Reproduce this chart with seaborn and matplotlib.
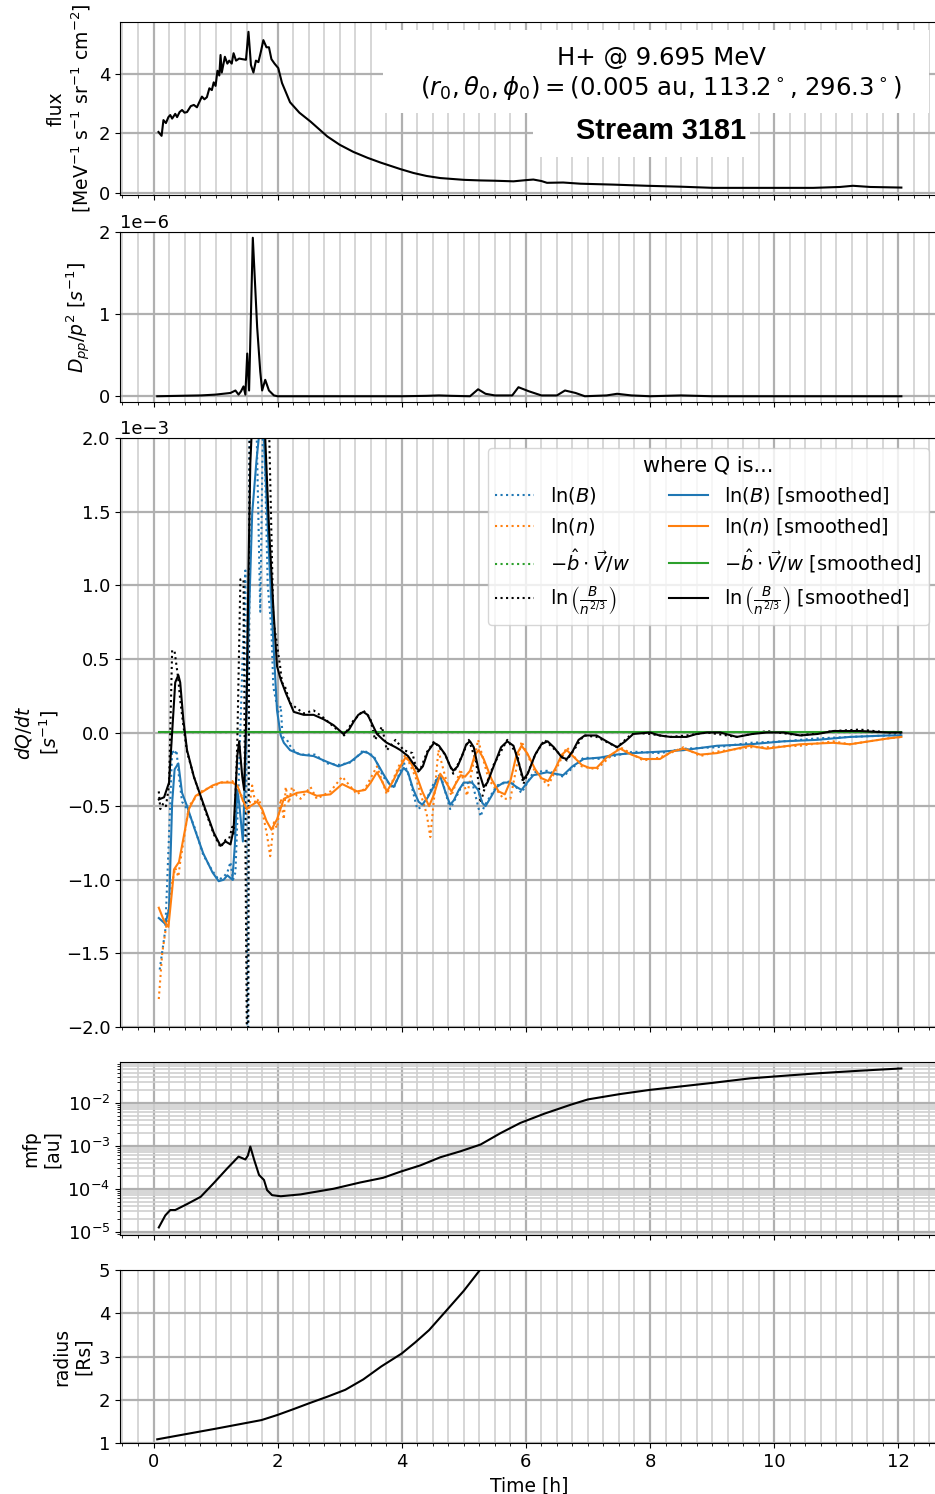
import numpy as np
import matplotlib
matplotlib.use("Agg")
import matplotlib.pyplot as plt
import seaborn as sns
from matplotlib.ticker import MultipleLocator
from matplotlib.patches import Rectangle

# ---- flux ----
flux_t = [0.08, 0.13, 0.16, 0.2, 0.24, 0.27, 0.3, 0.35, 0.38, 0.42, 0.46, 0.5, 0.54, 0.6, 0.65, 0.7,
          0.73, 0.78, 0.82, 0.86, 0.9, 0.94, 0.97, 1.0, 1.03, 1.06, 1.08, 1.1, 1.15, 1.19, 1.22, 1.26,
          1.29, 1.33, 1.38, 1.43, 1.49, 1.53, 1.57, 1.61, 1.65, 1.69, 1.73, 1.77, 1.82, 1.86, 1.9,
          1.95, 2.01, 2.07, 2.2, 2.35, 2.53, 2.8, 3.0, 3.22, 3.45, 3.66, 3.98, 4.19, 4.4, 4.62, 5.0,
          5.27, 5.5, 5.8, 6.0, 6.12, 6.25, 6.34, 6.6, 6.88, 7.4, 7.95, 8.49, 9.02, 9.56, 10.1, 10.63,
          11.06, 11.27, 11.55, 12.05]
flux = [2.05, 1.92, 2.45, 2.35, 2.55, 2.62, 2.5, 2.66, 2.55, 2.72, 2.79, 2.7, 2.72, 2.92, 2.96, 2.88,
        3.02, 3.24, 3.15, 3.22, 3.52, 3.46, 3.72, 3.6, 4.11, 3.95, 4.64, 4.05, 4.58, 4.35, 4.45, 4.35,
        4.7, 4.45, 4.52, 4.5, 4.48, 5.42, 4.3, 4.05, 4.45, 4.4, 4.75, 5.14, 4.9, 4.9, 4.5,
        4.35, 4.2, 3.7, 3.05, 2.7, 2.4, 1.9, 1.62, 1.38, 1.18, 1.02, 0.8, 0.67, 0.57, 0.5, 0.44,
        0.42, 0.41, 0.39, 0.43, 0.45, 0.4, 0.34, 0.35, 0.31, 0.28, 0.24, 0.21, 0.17, 0.17, 0.17, 0.17,
        0.2, 0.24, 0.2, 0.18]

# ---- Dpp/p^2 (x1e-6) ----
dpp_t = [0.06, 0.76, 1.0, 1.24, 1.32, 1.37, 1.41, 1.45, 1.48, 1.51, 1.54, 1.6, 1.67, 1.72, 1.75,
         1.8, 1.86, 1.94, 2.0, 3.0, 4.0, 4.4, 4.6, 4.8, 5.1, 5.23, 5.35, 5.5, 5.78, 5.88, 6.05,
         6.25, 6.5, 6.63, 6.8, 6.95, 7.3, 7.47, 7.7, 8.0, 8.5, 9.0, 10.0, 12.05]
dpp = [0.0, 0.01, 0.02, 0.04, 0.07, 0.02, 0.06, 0.12, 0.02, 0.52, 0.07, 1.93, 0.84, 0.3, 0.07,
       0.2, 0.07, 0.01, 0.0, 0.0, 0.0, 0.005, 0.01, 0.005, 0.0, 0.085, 0.03, 0.01, 0.01, 0.11, 0.06,
       0.01, 0.01, 0.07, 0.04, 0.0, 0.01, 0.03, 0.01, 0.0, 0.01, 0.0, 0.0, 0.0]

# ---- dQ/dt (x1e-3), raw ----
lnB_raw_t = [0.1, 0.19, 0.27, 0.3, 0.34, 0.37, 0.41, 0.46, 0.54, 0.65, 0.8, 0.95, 1.05, 1.13, 1.19,
             1.24, 1.28, 1.32, 1.37, 1.43, 1.48, 1.52, 1.55, 1.64, 1.72, 1.77, 1.84, 1.9, 1.93,
             2.01, 2.05, 2.08, 2.15, 2.2, 2.3, 2.4, 2.6, 2.8, 3.0, 3.2, 3.38, 3.55, 3.7, 3.87,
             4.03, 4.12, 4.25, 4.35, 4.51, 4.62, 4.78, 4.97, 5.13, 5.27, 5.33, 5.53, 5.75, 5.93,
             6.12, 6.34, 6.6, 6.93, 7.2, 7.73, 8.16, 8.54, 9.08, 9.61, 10.15, 10.69, 11.22, 11.84, 12.05]
lnB_raw = [-1.61, -1.34, -0.48, -0.12, -0.15, -0.12, -0.3, -0.47, -0.52, -0.63, -0.83, -0.94, -1.0, -0.98, -0.95,
           -0.88, -1.0, -0.95, -0.37, 0.43, 1.1, -3.0, 2.5, 2.5, 0.82, 2.3, 1.0, 0.7, 0.31,
           0.14, 0.18, -0.03, -0.05, -0.09, -0.14, -0.15, -0.15, -0.21, -0.22, -0.2, -0.12, -0.16, -0.3, -0.38,
           -0.2, -0.3, -0.52, -0.5, -0.35, -0.28, -0.52, -0.36, -0.33, -0.57, -0.5, -0.36, -0.33, -0.41,
           -0.27, -0.26, -0.3, -0.17, -0.18, -0.13, -0.14, -0.11, -0.1, -0.07, -0.06, -0.04, -0.03, -0.02, -0.01]

lnn_raw_t = [0.085, 0.14, 0.22, 0.3, 0.35, 0.4, 0.43, 0.49, 0.57, 0.68, 0.8, 0.95, 1.08, 1.27, 1.35,
             1.43, 1.48, 1.53, 1.59, 1.64, 1.7, 1.78, 1.83, 1.88, 1.94, 1.99, 2.05, 2.1, 2.13, 2.18,
             2.23, 2.31, 2.37, 2.53, 2.63, 2.85, 3.04, 3.28, 3.41, 3.6, 3.76, 3.95, 4.06, 4.22, 4.4,
             4.46, 4.52, 4.59, 4.7, 4.8, 4.95, 5.05, 5.23, 5.4, 5.64, 5.75, 5.93, 6.15, 6.36, 6.66,
             6.9, 7.14, 7.52, 7.89, 8.16, 8.54, 8.81, 9.08, 9.61, 9.88, 10.42, 10.95, 11.22, 11.84, 12.05]
lnn_raw = [-1.81, -1.5, -1.27, -1.02, -0.92, -0.98, -0.88, -0.72, -0.5, -0.44, -0.39, -0.37, -0.34, -0.33, -0.37,
           -0.44, -0.55, -0.55, -0.36, -0.48, -0.45, -0.59, -0.7, -0.84, -0.61, -0.65, -0.45, -0.59, -0.37, -0.48,
           -0.37, -0.43, -0.45, -0.37, -0.45, -0.4, -0.3, -0.42, -0.38, -0.23, -0.42, -0.23, -0.15, -0.3, -0.55,
           -0.71, -0.45, -0.12, -0.3, -0.43, -0.25, -0.43, -0.05, -0.32, -0.45, -0.45, -0.06, -0.27, -0.36, -0.1,
           -0.23, -0.25, -0.1, -0.19, -0.17, -0.1, -0.16, -0.13, -0.1, -0.1, -0.09, -0.06, -0.08, -0.04, -0.03]

bv_raw_t = [0.085, 1.0, 2.0, 4.0, 6.0, 8.0, 10.0, 12.05]
bv_raw = [0.003, 0.002, 0.003, 0.002, 0.003, 0.002, 0.003, 0.002]

ratio_raw_t = [0.085, 0.11, 0.16, 0.2, 0.25, 0.3, 0.34, 0.4, 0.43, 0.48, 0.54, 0.65, 0.8, 0.97, 1.08,
               1.16, 1.22, 1.27, 1.3, 1.35, 1.4, 1.45, 1.52, 1.55, 1.85, 1.93, 2.04, 2.07, 2.12, 2.2,
               2.29, 2.42, 2.58, 2.74, 2.9, 3.07, 3.22, 3.38, 3.49, 3.57, 3.68, 3.76, 3.9, 4.03, 4.17,
               4.25, 4.3, 4.41, 4.52, 4.7, 4.83, 4.97, 5.08, 5.2, 5.27, 5.32, 5.48, 5.7, 5.86, 5.96,
               6.15, 6.3, 6.45, 6.66, 6.93, 7.14, 7.47, 7.73, 8.0, 8.33, 8.59, 8.92, 9.4, 9.88, 10.42,
               10.95, 11.38, 11.84, 12.05]
ratio_raw = [-0.4, -0.52, -0.48, -0.5, -0.36, 0.56, 0.55, 0.36, 0.22, 0.05, -0.13, -0.3, -0.49, -0.69, -0.78,
             -0.73, -0.72, -0.64, -0.7, -0.07, 1.04, 1.04, -3.0, 2.6, 2.3, 0.77, 0.45, 0.34, 0.31, 0.2,
             0.17, 0.13, 0.15, 0.1, 0.04, -0.02, 0.08, 0.15, 0.1, -0.05, 0.04, -0.12, -0.05, -0.12, -0.14,
             -0.27, -0.25, -0.13, -0.06, -0.15, -0.28, -0.16, -0.05, -0.2, -0.48, -0.4, -0.22, -0.05, -0.15, -0.35,
             -0.15, -0.05, -0.11, -0.19, -0.02, -0.03, -0.1, 0.0, -0.01, -0.03, -0.02, 0.0, -0.03, 0.01, -0.02,
             0.01, 0.02, 0.0, 0.0]

# ---- dQ/dt (x1e-3), smoothed ----
lnB_sm_t = [0.085, 0.19, 0.25, 0.3, 0.34, 0.4, 0.46, 0.54, 0.65, 0.8, 0.95, 1.05, 1.13, 1.19, 1.27,
            1.31, 1.35, 1.38, 1.44, 1.48, 1.51, 1.59, 1.66, 1.72, 1.76, 1.78, 1.85, 1.92, 1.99, 2.05,
            2.1, 2.2, 2.37, 2.58, 2.8, 2.98, 3.17, 3.38, 3.46, 3.55, 3.62, 3.7, 3.8, 3.87, 3.95,
            4.03, 4.1, 4.18, 4.27, 4.33, 4.42, 4.51, 4.58, 4.63, 4.7, 4.78, 4.84, 4.92, 5.0, 5.13,
            5.23, 5.3, 5.35, 5.42, 5.53, 5.64, 5.75, 5.85, 5.93, 6.02, 6.12, 6.34, 6.6, 6.75, 6.93,
            7.2, 7.45, 7.73, 8.16, 8.54, 9.08, 9.61, 10.15, 10.69, 11.22, 11.84, 12.05]
lnB_sm = [-1.26, -1.3, -1.2, -0.48, -0.25, -0.21, -0.41, -0.5, -0.64, -0.82, -0.95, -1.01, -1.0, -0.97, -1.0,
          -0.77, -0.39, -0.48, -0.74, -0.2, 0.4, 1.49, 1.85, 2.1, 2.15, 2.0, 1.3, 0.7, 0.15, -0.02,
          -0.07, -0.12, -0.15, -0.16, -0.2, -0.23, -0.2, -0.13, -0.14, -0.17, -0.22, -0.28, -0.35, -0.37, -0.3,
          -0.24, -0.27, -0.38, -0.47, -0.49, -0.44, -0.37, -0.31, -0.31, -0.4, -0.49, -0.46, -0.39, -0.34, -0.34,
          -0.39, -0.48, -0.5, -0.45, -0.37, -0.34, -0.34, -0.37, -0.39, -0.34, -0.29, -0.27, -0.29, -0.23, -0.18,
          -0.17, -0.15, -0.14, -0.13, -0.12, -0.09, -0.08, -0.06, -0.05, -0.03, -0.02, -0.02]

lnn_sm_t = [0.085, 0.17, 0.24, 0.3, 0.33, 0.41, 0.49, 0.57, 0.68, 0.8, 0.95, 1.08, 1.27, 1.35, 1.43,
            1.5, 1.56, 1.67, 1.75, 1.82, 1.9, 1.99, 2.1, 2.21, 2.31, 2.47, 2.63, 2.85, 3.04, 3.28,
            3.41, 3.5, 3.6, 3.68, 3.76, 3.86, 3.95, 4.06, 4.14, 4.22, 4.33, 4.44, 4.52, 4.62, 4.7,
            4.8, 4.88, 4.95, 5.02, 5.1, 5.18, 5.24, 5.32, 5.45, 5.56, 5.66, 5.75, 5.85, 5.93, 6.02,
            6.15, 6.25, 6.36, 6.48, 6.58, 6.66, 6.78, 6.9, 7.02, 7.14, 7.3, 7.52, 7.7, 7.89, 8.16,
            8.35, 8.54, 8.81, 9.08, 9.61, 9.88, 10.42, 10.95, 11.22, 11.84, 12.05]
lnn_sm = [-1.19, -1.28, -1.32, -1.07, -0.93, -0.88, -0.7, -0.52, -0.43, -0.4, -0.36, -0.34, -0.34, -0.36, -0.45,
          -0.52, -0.5, -0.47, -0.52, -0.6, -0.66, -0.59, -0.45, -0.43, -0.41, -0.4, -0.43, -0.42, -0.35, -0.4,
          -0.39, -0.34, -0.27, -0.33, -0.4, -0.33, -0.25, -0.17, -0.2, -0.27, -0.4, -0.5, -0.42, -0.28, -0.33,
          -0.4, -0.34, -0.29, -0.3, -0.26, -0.15, -0.12, -0.18, -0.32, -0.4, -0.42, -0.33, -0.15, -0.09, -0.14,
          -0.25, -0.31, -0.33, -0.24, -0.15, -0.12, -0.17, -0.22, -0.24, -0.24, -0.17, -0.11, -0.15, -0.18, -0.18,
          -0.13, -0.11, -0.15, -0.14, -0.09, -0.11, -0.08, -0.07, -0.08, -0.04, -0.03]

bv_sm_t = [0.085, 1.0, 2.0, 4.0, 6.0, 8.0, 10.0, 12.05]
bv_sm = [0.002, 0.002, 0.002, 0.002, 0.002, 0.002, 0.002, 0.002]

ratio_sm_t = [0.085, 0.17, 0.25, 0.3, 0.35, 0.4, 0.43, 0.48, 0.54, 0.65, 0.8, 0.97, 1.08, 1.16, 1.24,
              1.29, 1.35, 1.38, 1.43, 1.46, 1.5, 1.53, 1.56, 1.62, 1.7, 1.8, 1.86, 1.93, 1.99, 2.05,
              2.13, 2.26, 2.42, 2.58, 2.74, 2.9, 3.06, 3.15, 3.22, 3.3, 3.38, 3.45, 3.52, 3.6, 3.7,
              3.76, 3.9, 3.98, 4.1, 4.2, 4.28, 4.34, 4.42, 4.52, 4.6, 4.7, 4.78, 4.83, 4.9, 4.97,
              5.04, 5.1, 5.16, 5.24, 5.32, 5.38, 5.48, 5.6, 5.7, 5.8, 5.88, 5.96, 6.03, 6.15, 6.25,
              6.35, 6.45, 6.58, 6.66, 6.75, 6.85, 6.95, 7.14, 7.3, 7.47, 7.6, 7.73, 8.0, 8.15, 8.33,
              8.59, 8.75, 8.92, 9.13, 9.4, 9.65, 9.88, 10.15, 10.42, 10.7, 10.95, 11.38, 11.84, 12.05]
ratio_sm = [-0.455, -0.44, -0.34, 0.0, 0.34, 0.39, 0.34, 0.09, -0.12, -0.3, -0.48, -0.68, -0.77, -0.74, -0.76,
            -0.66, -0.16, -0.06, -0.3, -0.39, 0.2, 1.1, 1.83, 2.4, 2.5, 2.0, 1.4, 0.85, 0.45, 0.36,
            0.27, 0.14, 0.12, 0.12, 0.09, 0.05, -0.01, 0.02, 0.07, 0.12, 0.14, 0.12, 0.06, -0.01, -0.05,
            -0.07, -0.1, -0.12, -0.16, -0.22, -0.26, -0.23, -0.13, -0.07, -0.09, -0.15, -0.23, -0.26, -0.23, -0.16,
            -0.08, -0.06, -0.1, -0.26, -0.37, -0.34, -0.23, -0.1, -0.06, -0.09, -0.2, -0.32, -0.28, -0.15, -0.08,
            -0.06, -0.1, -0.17, -0.18, -0.13, -0.05, -0.02, -0.02, -0.06, -0.1, -0.06, -0.01, 0.0, -0.02, -0.03,
            -0.03, -0.01, 0.0, 0.0, -0.03, -0.01, 0.0, 0.0, -0.02, -0.01, 0.01, 0.01, 0.0, 0.0]

# ---- mean free path [au] ----
mfp_t = [0.085, 0.19, 0.27, 0.35, 0.54, 0.76, 0.97, 1.19, 1.37, 1.48, 1.52, 1.56, 1.62, 1.7, 1.78,
         1.83, 1.91, 2.05, 2.37, 2.9, 3.33, 3.7, 3.98, 4.3, 4.62, 4.94, 5.27, 5.6, 5.91, 6.3, 6.72,
         7.0, 7.52, 8.0, 8.49, 9.0, 9.61, 10.2, 10.74, 11.4, 12.05]
mfp = [1.26e-5, 2.4e-5, 3.2e-5, 3.2e-5, 4.4e-5, 6.5e-5, 1.35e-4, 3.0e-4, 5.6e-4, 4.8e-4, 5.9e-4, 9.6e-4, 4.8e-4, 2.1e-4, 1.6e-4,
       9.3e-5, 7.1e-5, 6.7e-5, 7.4e-5, 1.0e-4, 1.4e-4, 1.8e-4, 2.5e-4, 3.5e-4, 5.4e-4, 7.4e-4, 1.07e-3, 2.0e-3, 3.4e-3, 5.6e-3, 9.0e-3,
       1.2e-2, 1.6e-2, 2.0e-2, 2.4e-2, 2.9e-2, 3.7e-2, 4.3e-2, 4.9e-2, 5.6e-2, 6.3e-2]

# ---- radius [Rs] ----
rad_t = [0.06, 0.5, 1.0, 1.74, 2.0, 2.25, 2.51, 2.8, 3.09, 3.38, 3.67, 4.0, 4.22, 4.44, 4.73, 5.0, 5.26, 5.6]
rad = [1.085, 1.2, 1.33, 1.53, 1.65, 1.78, 1.92, 2.07, 2.23, 2.47, 2.77, 3.07, 3.33, 3.61, 4.08, 4.52, 5.0, 5.7]

plt.rcParams.update({
    "font.size": 13,
    "axes.labelsize": 13.5,
    "xtick.labelsize": 13,
    "ytick.labelsize": 13,
    "legend.fontsize": 14,
})

fig = plt.figure(figsize=(9.35, 14.94), dpi=100)
W, H = 935.0, 1494.0
left, right = 120, 938.6
boxes = [(22, 195), (232, 402), (438, 1027), (1062, 1235), (1270, 1443)]
axes = []
for top, bot in boxes:
    rect = [left / W, 1 - bot / H, (right - left) / W, (bot - top) / H]
    ax = fig.add_axes(rect, sharex=axes[0] if axes else None)
    axes.append(ax)
ax1, ax2, ax3, ax4, ax5 = axes

kw = dict(estimator=None, sort=False, legend=False)
sns.lineplot(x=flux_t, y=flux, ax=ax1, color="k", lw=1.5, **kw)
sns.lineplot(x=dpp_t, y=np.array(dpp) * 1e-6, ax=ax2, color="k", lw=1.5, **kw)

raw = [(lnB_raw_t, lnB_raw, "tab:blue", r"$\ln(B)$"),
       (lnn_raw_t, lnn_raw, "tab:orange", r"$\ln(n)$"),
       (bv_raw_t, bv_raw, "tab:green", r"$-\hat{b}\cdot\vec{V}/w$"),
       (ratio_raw_t, ratio_raw, "k", r"$\ln\left(\frac{B}{n^{2/3}}\right)$")]
smooth = [(lnB_sm_t, lnB_sm, "tab:blue", r"$\ln(B)$ [smoothed]"),
          (lnn_sm_t, lnn_sm, "tab:orange", r"$\ln(n)$ [smoothed]"),
          (bv_sm_t, bv_sm, "tab:green", r"$-\hat{b}\cdot\vec{V}/w$ [smoothed]"),
          (ratio_sm_t, ratio_sm, "k", r"$\ln\left(\frac{B}{n^{2/3}}\right)$ [smoothed]")]
for t, v, c, lab in raw:
    sns.lineplot(x=t, y=np.array(v) * 1e-3, ax=ax3, color=c, lw=1.5, linestyle=":",
                 label=lab, estimator=None, sort=False)
for t, v, c, lab in smooth:
    sns.lineplot(x=t, y=np.array(v) * 1e-3, ax=ax3, color=c, lw=1.5,
                 label=lab, estimator=None, sort=False)

sns.lineplot(x=mfp_t, y=mfp, ax=ax4, color="k", lw=1.5, **kw)
ax4.set_yscale("log")
sns.lineplot(x=rad_t, y=rad, ax=ax5, color="k", lw=1.5, **kw)

# axes limits / ticks
ax5.set_xlim(-0.54, 12.65)
ax5.xaxis.set_major_locator(MultipleLocator(2))
ax5.xaxis.set_minor_locator(MultipleLocator(0.25))
ax1.set_ylim(-0.07, 5.75)
ax1.yaxis.set_major_locator(MultipleLocator(2))
ax2.set_ylim(-0.07e-6, 2.0e-6)
ax2.yaxis.set_major_locator(MultipleLocator(1e-6))
ax3.set_ylim(-2e-3, 2e-3)
ax3.yaxis.set_major_locator(MultipleLocator(0.5e-3))
ax3.ticklabel_format(axis="y", style="sci", scilimits=(0, 0))
ax4.set_ylim(8.4e-6, 0.089)
ax5.set_ylim(1, 5)
ax5.yaxis.set_major_locator(MultipleLocator(1))

for ax in axes:
    ax.grid(True, which="major", color="#b0b0b0", lw=1.6)
    ax.grid(True, which="minor", color="#d0d0d0", lw=1.2)
    ax.set_axisbelow(True)
    ax.set_xlabel("")
for ax in axes[:-1]:
    ax.tick_params(labelbottom=False)

ax1.set_ylabel("flux\n[MeV$^{-1}$ s$^{-1}$ sr$^{-1}$ cm$^{-2}$]")
ax2.set_ylabel(r"$D_{pp}/p^2$ [$s^{-1}$]")
ax3.set_ylabel("$dQ/dt$\n[$s^{-1}$]")
ax4.set_ylabel("mfp\n[au]")
ax5.set_ylabel("radius\n[Rs]")
ax5.set_xlabel("Time [h]")

# title block in the flux panel
ax1.add_patch(Rectangle((0.3213, 0.474), 0.667, 0.48, transform=ax1.transAxes,
                        facecolor="white", edgecolor="none", zorder=3))
ax1.add_patch(Rectangle((0.5045, 0.2197), 0.2651, 0.2543, transform=ax1.transAxes,
                        facecolor="white", edgecolor="none", zorder=3))
ax1.text(0.661, 0.751, "H+ @ 9.695 MeV", transform=ax1.transAxes, ha="center",
         va="baseline", fontsize=17.6, zorder=4)
ax1.text(0.661, 0.578, r"$(r_0,\theta_0,\phi_0) = $(0.005 au, 113.2$^\circ$, 296.3$^\circ$)",
         transform=ax1.transAxes, ha="center", va="baseline", fontsize=17.6, zorder=4)
ax1.text(0.661, 0.322, "Stream 3181", transform=ax1.transAxes, ha="center", va="baseline",
         fontsize=20.8, fontweight="bold", family="Liberation Sans", zorder=4)

handles, labels = ax3.get_legend_handles_labels()
ax3.legend(handles, labels, title="where Q is...", ncol=2, loc="upper right",
           title_fontsize=15)

fig.savefig("out.png", dpi=100)
